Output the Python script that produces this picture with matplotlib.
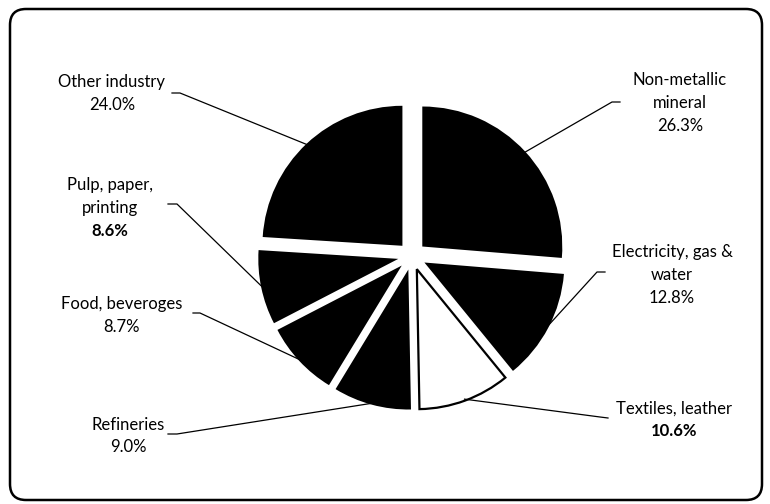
import numpy as np
import matplotlib
matplotlib.use("Agg")
import matplotlib.pyplot as plt
from matplotlib.patches import FancyBboxPatch

plt.rcParams['font.family'] = ['Lato', 'DejaVu Sans']

# data (clockwise from 12 o'clock)
sectors = ['Non-metallic\nmineral', 'Electricity, gas &\nwater', 'Textiles, leather',
           'Refineries', 'Food, beveroges', 'Pulp, paper,\nprinting', 'Other industry']
shares = [26.3, 12.8, 10.6, 9.0, 8.7, 8.6, 24.0]
bold_pct = [False, False, True, False, False, True, False]

W, H = 770, 504
fig = plt.figure(figsize=(W / 100, H / 100), dpi=100)
ax = fig.add_axes([0, 0, 1, 1])

cx, cy, R, shift = 412, H - 256, 140, 14
cols = ['black'] * len(shares)
cols[2] = 'white'
# explode is in data units here (pixels)
wedges, _ = ax.pie(shares, startangle=90, counterclock=False, colors=cols,
                   explode=[shift] * len(shares), radius=R, center=(cx, cy),
                   wedgeprops=dict(linewidth=0))
wedges[2].set_edgecolor('black')
wedges[2].set_linewidth(1.6)

# label positions (image px): text centre, line start, knee
lab_pos = [(680, 103), (672, 275), (674, 420), (128, 436), (122, 315), (110, 208), (112, 94)]
line_start = [(620, 102), (605, 272), (608, 418), (168, 434), (193, 313), (168, 204), (172, 93)]
knee = [(612, 102), (597, 272), (600, 417), (177, 434), (200, 313), (177, 204), (180, 93)]

cum = 90 - np.cumsum([0] + shares[:-1]) * 3.6
mids = cum - np.array(shares) * 1.8
for i, s in enumerate(sectors):
    lx, ly = lab_pos[i]
    nl = s.count('\n') + 1
    lh = 23
    top = ly - nl * lh / 2
    for j, line in enumerate(s.split('\n')):
        ax.text(lx, H - (top + j * lh), line, ha='center', va='center', fontsize=12)
    ax.text(lx, H - (top + nl * lh), '%.1f%%' % shares[i], ha='center', va='center',
            fontsize=12, fontweight='bold' if bold_pct[i] else 'normal')
    a = np.deg2rad(mids[i])
    ex = cx + (R + shift - 1.5) * np.cos(a)
    ey = cy + (R + shift - 1.5) * np.sin(a)
    ax.plot([line_start[i][0], knee[i][0], ex], [H - line_start[i][1], H - knee[i][1], ey],
            color='black', lw=0.9)

ax.add_patch(FancyBboxPatch((10, H - 500), 752, 491, boxstyle='round,pad=0,rounding_size=16',
                            fill=False, ec='black', lw=1.8))
ax.set_xlim(0, W)
ax.set_ylim(0, H)
ax.set_aspect('equal')
ax.axis('off')
fig.savefig('out.png', dpi=100)
